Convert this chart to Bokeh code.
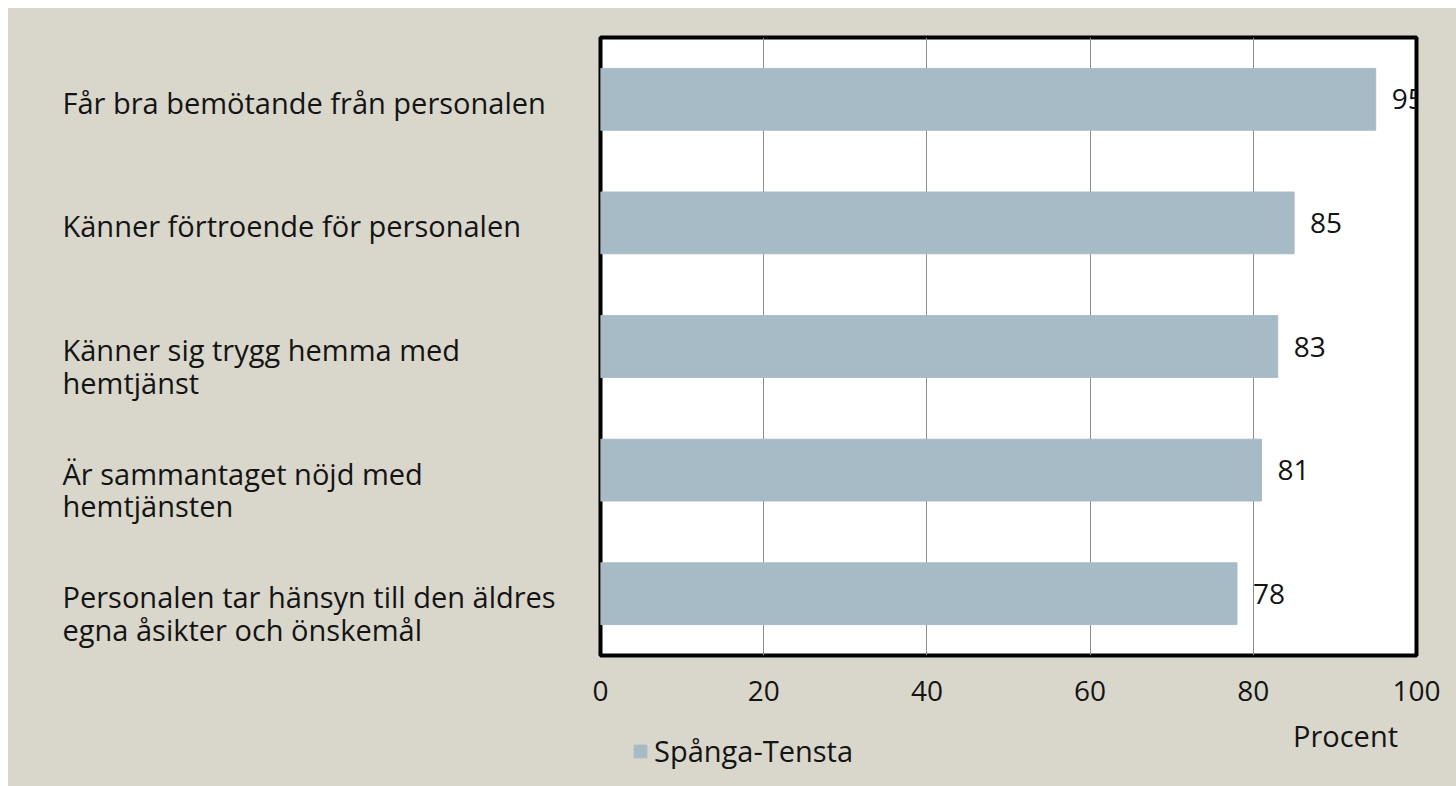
from bokeh.plotting import figure
from bokeh.layouts import row, column
from bokeh.models import (LabelSet, ColumnDataSource, FactorRange, Range1d, FixedTicker,
                          Legend, LegendItem)
from bokeh.core.properties import value
from bokeh.embed import file_html
from bokeh.resources import INLINE

# ---- data ----
categories = [
    "Får bra bemötande från personalen",
    "Känner förtroende för personalen",
    "Känner sig trygg hemma med\nhemtjänst",
    "Är sammantaget nöjd med\nhemtjänsten",
    "Personalen tar hänsyn till den äldres\negna åsikter och önskemål",
]
values = [95, 85, 83, 81, 78]
series_name = "Spånga-Tensta"
x_ticks = [0, 20, 40, 60, 80, 100]
axis_title = "Procent"

# ---- style ----
FONT = "Open Sans"
FS = "29px"       # texts
FS_NUM = "28px"   # numbers
BG = "#D9D7CB"
BAR = "#A7BBC7"
TXT = "#141414"
LINE_H = 33

TOP = 29          # space above the plot frame
FRAME_H = 618     # plot frame height
AX_H = 60         # space for the x tick labels
LEFT_W = 572      # width of the category-label strip
PAD_L = 20        # main figure's left border
MAIN_W = 1448 - LEFT_W
BOT_H = 778 - (TOP + FRAME_H + AX_H)

y_range = FactorRange(factors=list(reversed(categories)), range_padding=0)
x_range = Range1d(0, 100)

src = ColumnDataSource(dict(cat=categories, val=values, lab=[str(v) for v in values]))


def style_bg(f):
    f.background_fill_color = BG
    f.border_fill_color = BG
    f.outline_line_color = None
    f.xaxis.visible = False
    f.yaxis.visible = False
    f.xgrid.grid_line_color = None
    f.ygrid.grid_line_color = None


# ---- left strip: category labels ----
left = figure(width=LEFT_W, height=TOP + FRAME_H + AX_H, y_range=y_range,
              x_range=Range1d(0, LEFT_W), output_backend="svg", toolbar_location=None,
              min_border_left=0, min_border_right=0, min_border_top=TOP, min_border_bottom=AX_H)
style_bg(left)
cat_src = ColumnDataSource(dict(
    cat=categories,
    yoff=[c.count("\n") * LINE_H / 2 + 3 for c in categories],
))
left.text(x=54, y="cat", text="cat", source=cat_src, y_offset="yoff",
          text_align="left", text_baseline="middle", text_font=value(FONT),
          text_font_size=FS, text_color=TXT, text_line_height=0.84)

# ---- main plot ----
p = figure(width=MAIN_W, height=TOP + FRAME_H + AX_H, y_range=y_range, x_range=x_range,
           output_backend="svg", toolbar_location=None,
           min_border_left=PAD_L, min_border_right=40, min_border_top=TOP, min_border_bottom=AX_H)
p.background_fill_color = "white"
p.border_fill_color = BG
p.outline_line_color = "black"
p.outline_line_width = 4

p.hbar(y="cat", right="val", left=0, height=0.5, color=BAR, source=src)

p.yaxis.visible = False
xa = p.xaxis[0]
xa.ticker = FixedTicker(ticks=x_ticks)
xa.axis_line_color = None
xa.major_tick_line_color = None
xa.minor_tick_line_color = None
xa.major_label_text_font = FONT
xa.major_label_text_font_size = FS_NUM
xa.major_label_text_color = TXT
xa.major_label_standoff = 19

p.ygrid.grid_line_color = None
p.xgrid.grid_line_color = "#8E8E8E"
p.xgrid.grid_line_width = 1
p.xgrid.ticker = FixedTicker(ticks=x_ticks[1:-1])

p.add_layout(LabelSet(x="val", y="cat", text="lab", source=src, x_offset=16,
                      text_baseline="middle", text_font=value(FONT),
                      text_font_size=FS_NUM, text_color=TXT))

# ---- bottom strip: axis title and legend ----
bot = figure(width=1448, height=BOT_H, x_range=x_range, y_range=Range1d(0, BOT_H),
             output_backend="svg", toolbar_location=None,
             min_border_left=LEFT_W + PAD_L, min_border_right=40, min_border_top=0, min_border_bottom=0)
style_bg(bot)
bot.text(x=[91.3], y=[BOT_H - 20], text=[axis_title], text_align="center",
         text_baseline="middle", text_font=value(FONT), text_font_size=FS, text_color=TXT)
legend_src = ColumnDataSource(dict(y=[float("nan")], right=[float("nan")]))
legend_r = bot.hbar(y="y", right="right", left=0, height=0.5, color=BAR, source=legend_src)
lg = Legend(items=[LegendItem(label=series_name, renderers=[legend_r])],
            location=(32, 16), padding=0, margin=0, spacing=0,
            glyph_width=16, glyph_height=16, label_standoff=6,
            border_line_color=None, background_fill_alpha=0,
            label_text_font=FONT, label_text_font_size=FS, label_text_color=TXT)
bot.add_layout(lg)

layout = column(row(left, p, spacing=0, styles={"background-color": BG}), bot,
                spacing=0, margin=(8, 0, 0, 8), styles={"background-color": BG})

open("out.html", "w").write(file_html(layout, INLINE))
